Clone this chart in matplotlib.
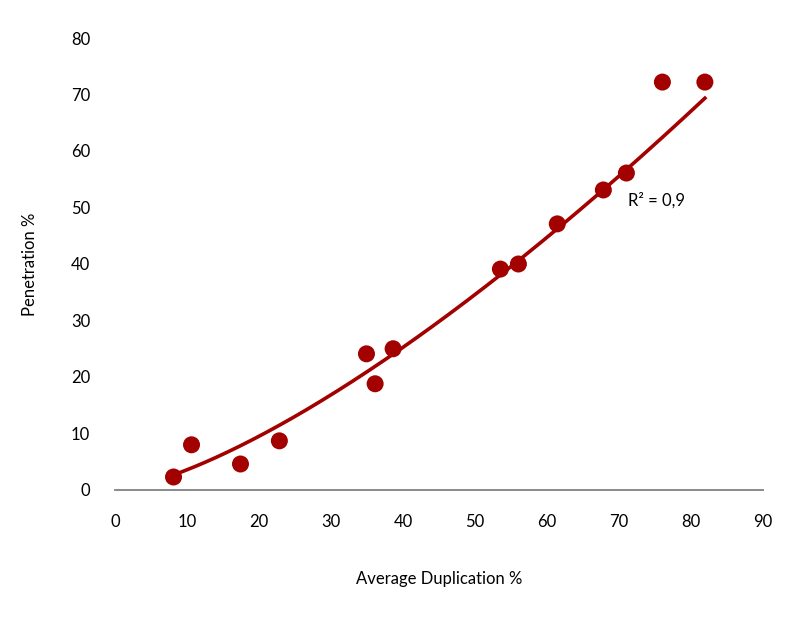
import numpy as np
import matplotlib.pyplot as plt

plt.rcParams['font.family'] = ['Lato', 'DejaVu Sans']

# average duplication % vs penetration %
duplication = [8.1, 10.6, 17.4, 22.8, 34.9, 36.1, 38.6, 53.5, 56.0, 61.4, 67.8, 71.0, 76.0, 81.9]
penetration = [2.3, 8.0, 4.6, 8.7, 24.1, 18.8, 25.0, 39.1, 40.0, 47.1, 53.1, 56.1, 72.2, 72.2]
x_ticks = [0, 10, 20, 30, 40, 50, 60, 70, 80, 90]
y_ticks = [0, 10, 20, 30, 40, 50, 60, 70, 80]

red = '#a30000'

fig = plt.figure(figsize=(8, 6.23), dpi=100)
ax = fig.add_axes([0.144, 0.2135, 0.81, 0.7255])

# power trendline (log-log fit), from first to last point
b, log_a = np.polyfit(np.log(duplication), np.log(penetration), 1)
xs = np.linspace(min(duplication), max(duplication), 200)
ax.plot(xs, np.exp(log_a) * xs ** b, color=red, lw=2.6, zorder=2)
ax.scatter(duplication, penetration, s=150, color=red, edgecolors='none', zorder=3)

ax.text(71.2, 51.2, 'R² = 0,9', fontsize=12, ha='left', va='center')

ax.set_xlim(0, 90)
ax.set_ylim(0, 80)
ax.set_xticks(x_ticks)
ax.set_yticks(y_ticks)
ax.tick_params(length=0, labelsize=12)
ax.tick_params(axis='x', pad=17)
ax.tick_params(axis='y', pad=18)
for s in ['top', 'right', 'left']:
    ax.spines[s].set_visible(False)
ax.spines['bottom'].set_color('#808080')
ax.spines['bottom'].set_linewidth(1.3)

ax.set_xlabel('Average Duplication %', fontsize=12, labelpad=30)
ax.set_ylabel('Penetration %', fontsize=12, labelpad=24)

fig.savefig('out.png', dpi=100)
